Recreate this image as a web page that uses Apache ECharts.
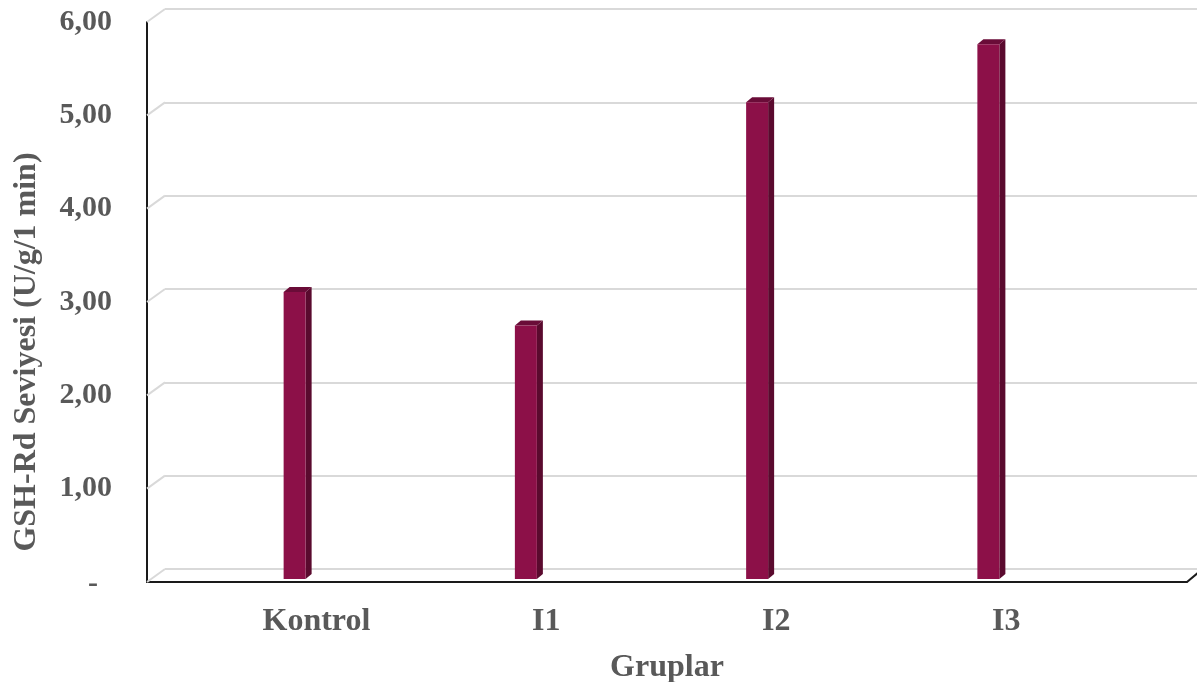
<!DOCTYPE html>
<html>
<head>
<meta charset="utf-8">
<script src="https://cdn.jsdelivr.net/npm/echarts@6/dist/echarts.min.js"></script>
<style>html,body{margin:0;padding:0;background:#fff;}#chart{width:1197px;height:682px;}</style>
</head>
<body>
<div id="chart"></div>
<script>
var categories = ['Kontrol', 'I1', 'I2', 'I3'];
var values = [3.07, 2.71, 5.10, 5.72];
var yTicks = [0, 1, 2, 3, 4, 5, 6];
var yTitle = 'GSH-Rd Seviyesi (U/g/1 min)';
var xTitle = 'Gruplar';

var FONT = '"Liberation Serif", "Times New Roman", serif';
var TXT = '#595959';
var chart = echarts.init(document.getElementById('chart'));

var option = {
  animation: false,
  grid: [
    {left: 147, right: 10, top: 22, bottom: 100, outerBoundsMode: 'none', containLabel: false},      // front frame
    {left: 165, right: -10, top: 9, bottom: 113, outerBoundsMode: 'none', containLabel: false},      // back wall
    {left: 179, width: 925, top: 18, bottom: 103, outerBoundsMode: 'none', containLabel: false},     // bars
    {left: 201.5, width: 919.6, top: 22, bottom: 100, outerBoundsMode: 'none', containLabel: false}  // category labels
  ],
  xAxis: [
    {gridIndex: 0, type: 'value', min: 0, max: 1, axisLine: {show: true, lineStyle: {color: '#1a1a1a', width: 2}},
     axisTick: {show: false}, axisLabel: {show: false}, splitLine: {show: false},
     name: xTitle, nameLocation: 'middle', nameGap: 86,
     nameTextStyle: {fontFamily: FONT, fontWeight: 'bold', fontSize: 32, color: TXT, verticalAlign: 'middle'}},
    {gridIndex: 1, type: 'value', min: 0, max: 1, show: false},
    {gridIndex: 2, type: 'category', data: categories, show: false},
    {gridIndex: 3, type: 'category', data: categories, axisLine: {show: false}, axisTick: {show: false},
     axisLabel: {fontFamily: FONT, fontWeight: 'bold', fontSize: 32, color: TXT, margin: 24}}
  ],
  yAxis: [
    {gridIndex: 0, type: 'value', min: 0, max: 6, interval: 1,
     axisLine: {show: true, lineStyle: {color: '#1a1a1a', width: 2}}, axisTick: {show: false}, splitLine: {show: false},
     axisLabel: {margin: 35, fontFamily: FONT, fontWeight: 'bold', fontSize: 30, color: TXT,
       formatter: function (v) { return v === 0 ? '{dash|-}' : v.toFixed(2).replace('.', ','); },
       rich: {dash: {fontFamily: FONT, fontWeight: 'bold', fontSize: 30, color: TXT, padding: [4, 14, 0, 0]}}}},
    {gridIndex: 1, type: 'value', min: 0, max: 6, interval: 1, axisLine: {show: false}, axisTick: {show: false},
     axisLabel: {show: false}, splitLine: {show: true, lineStyle: {color: '#d9d9d9', width: 2}}},
    {gridIndex: 2, type: 'value', min: 0, max: 6, interval: 1, show: false},
    {gridIndex: 3, type: 'value', min: 0, max: 6, interval: 1, show: false}
  ],
  graphic: [{
    type: 'text', x: 27, y: 352, rotation: Math.PI / 2,
    style: {text: yTitle, fontFamily: FONT, fontWeight: 'bold', fontSize: 32, fill: TXT, align: 'center', verticalAlign: 'middle'}
  }],
  series: [
    {
      type: 'custom', xAxisIndex: 1, yAxisIndex: 1, data: yTicks.map(function (t) { return [0, t]; }), z: 1,
      renderItem: function (params, api) {
        var p = api.coord([0, api.value(1)]);
        return {type: 'line', shape: {x1: p[0] - 18, y1: p[1] + 13, x2: p[0], y2: p[1]},
                style: {stroke: '#d9d9d9', lineWidth: 2}};
      }
    },
    {
      type: 'custom', xAxisIndex: 0, yAxisIndex: 0, data: [[1, 0]], z: 3,
      renderItem: function (params, api) {
        var p = api.coord([api.value(0), api.value(1)]);
        return {type: 'line', shape: {x1: p[0], y1: p[1], x2: p[0] + 12, y2: p[1] - 10},
                style: {stroke: '#1a1a1a', lineWidth: 2}};
      }
    },
    {
      type: 'custom', xAxisIndex: 2, yAxisIndex: 2, z: 5,
      data: values.map(function (v, i) { return [i, v]; }),
      renderItem: function (params, api) {
        var top = api.coord([api.value(0), api.value(1)]);
        var bot = api.coord([api.value(0), 0]);
        var hw = 11, dx = 6, dy = -5;
        var x0 = top[0] - hw, x1 = top[0] + hw, yt = top[1], yb = bot[1];
        return {type: 'group', children: [
          {type: 'polygon', shape: {points: [[x1, yt], [x1 + dx, yt + dy], [x1 + dx, yb + dy], [x1, yb]]},
           style: {fill: '#5a0a2e'}},
          {type: 'polygon', shape: {points: [[x0, yt], [x0 + dx, yt + dy], [x1 + dx, yt + dy], [x1, yt]]},
           style: {fill: '#6a0c38'}},
          {type: 'rect', shape: {x: x0, y: yt, width: 2 * hw, height: yb - yt}, style: {fill: '#8c1048'}}
        ]};
      }
    }
  ]
};
chart.setOption(option);
</script>
</body>
</html>
